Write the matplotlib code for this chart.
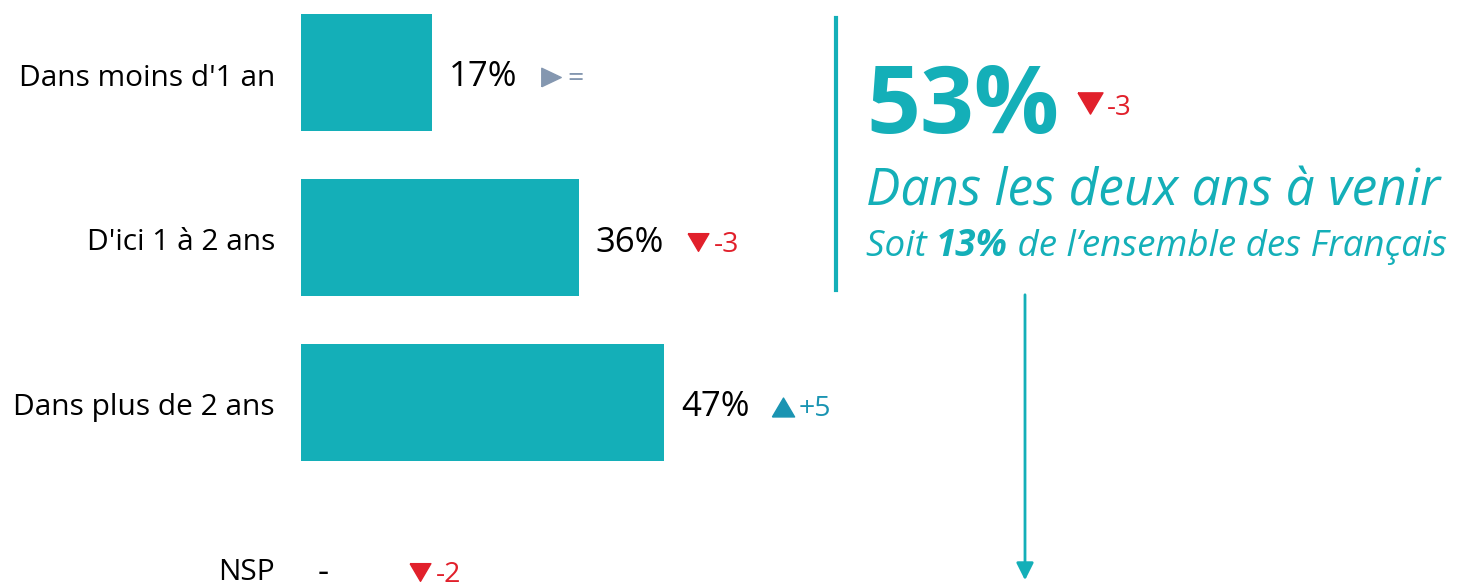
import matplotlib
matplotlib.use('Agg')
import matplotlib.pyplot as plt
from matplotlib.lines import Line2D
from matplotlib.patches import FancyArrowPatch
from matplotlib.transforms import offset_copy

plt.rcParams['font.family'] = ['Open Sans', 'DejaVu Sans']

# données
categories = ["Dans moins d'1 an", "D'ici 1 à 2 ans", "Dans plus de 2 ans", "NSP"]
values = [17, 36, 47, 0]
value_labels = ['17%', '36%', '47%', '-']
evolutions = ['=', '-3', '+5', '-2']
trends = ['flat', 'down', 'up', 'down']

total_value = '53%'
total_evol = '-3'
total_sub = 'Dans les deux ans à venir'
share_value = '13%'

TEAL = '#14AFB8'
RED = '#E1202B'
# triangles
TRI_DOWN = [(-1, 0.85), (1, 0.85), (0, -0.85), (-1, 0.85)]
TRI_UP = [(-1, -0.85), (1, -0.85), (0, 0.85), (-1, -0.85)]
TRI_RIGHT = [(-1, -0.95), (1, 0), (-1, 0.95), (-1, -0.95)]
styles = {'flat': (TRI_RIGHT, 14, '#8497B0'),
          'down': (TRI_DOWN, 15, RED),
          'up': (TRI_UP, 16, '#1A94B2')}

W, H = 1461, 585
PT = 72 / 100  # px -> points

fig = plt.figure(figsize=(W / 100, H / 100), dpi=100)
ax = fig.add_axes([301 / W, 0, 520 / W, 1])
ax.set_xlim(0, 520 / 7.72)
ax.set_ylim(3 + 17.5 / 165, -72.5 / 165)
ax.axis('off')

ypos = list(range(len(categories)))
ax.barh(ypos, values, height=117 / 165, color=TEAL)

for i, (cat, v, lab, ev, tr) in enumerate(zip(categories, values, value_labels, evolutions, trends)):
    ax.annotate(cat, (0, i), xytext=(-26 * PT, -13 * PT), textcoords='offset points',
                ha='right', va='baseline', fontsize=21.5, color='black')
    ax.annotate(lab, (v, i), xytext=(17 * PT, -14 * PT), textcoords='offset points',
                ha='left', va='baseline', fontsize=25, color='black')
    mk, ms, col = styles[tr]
    tri = offset_copy(ax.transData, fig=fig, x=119 * PT, y=-4 * PT, units='points')
    ax.plot([v], [i], marker=mk, ms=ms, color=col, transform=tri, clip_on=False)
    ax.annotate(ev, (v, i), xytext=(135 * PT, -14 * PT), textcoords='offset points',
                ha='left', va='baseline', fontsize=20.5, color=col)

# bloc de droite
fig.add_artist(Line2D([836 / W, 836 / W], [1 - 18 / H, 1 - 290 / H],
                      transform=fig.transFigure, color=TEAL, lw=3))
fig.text(866 / W, 1 - 133 / H, total_value, fontsize=68, weight='bold',
         color=TEAL, va='baseline', ha='left')
fig.add_artist(Line2D([1090 / W], [1 - 103 / H], marker=TRI_DOWN, ms=18, color=RED,
                      transform=fig.transFigure))
fig.text(1107 / W, 1 - 115 / H, total_evol, fontsize=20, color=RED, va='baseline')
fig.text(866 / W, 1 - 205 / H, total_sub, fontsize=37, style='italic',
         color=TEAL, va='baseline')
t1 = fig.text(866 / W, 1 - 256 / H, 'Soit ', fontsize=26.5, style='italic',
              color=TEAL, va='baseline')
a2 = ax.annotate(share_value, xy=(1, 0), xycoords=t1, va='bottom', ha='left',
                 fontsize=26.5, style='italic', weight='bold', color=TEAL)
ax.annotate(' de l\u2019ensemble des Français', xy=(1, 0), xycoords=a2, va='bottom',
            ha='left', fontsize=26.5, style='italic', color=TEAL)

fig.add_artist(FancyArrowPatch((1025 / W, 1 - 292 / H), (1025 / W, 1 - 583 / H),
                               transform=fig.transFigure, arrowstyle='-|>',
                               mutation_scale=26, color=TEAL, lw=2))

fig.savefig('out.png', dpi=100)
